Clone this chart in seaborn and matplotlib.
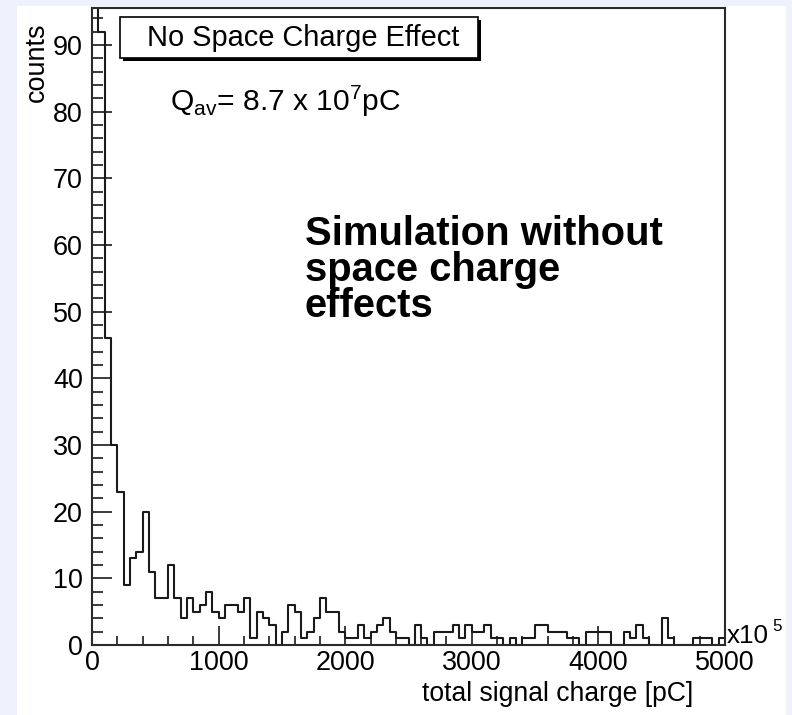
import matplotlib
matplotlib.use("Agg")
import numpy as np
import pandas as pd
import seaborn as sns
import matplotlib.pyplot as plt
from matplotlib.patches import Rectangle
from matplotlib.ticker import MultipleLocator, FixedLocator
from matplotlib import font_manager

# histogram contents: 100 bins of 50 (x10^5 pC) from 0 to 5000
bin_width = 50
x_range = (0, 5000)
counts = [130, 92, 46, 30, 23, 9, 13, 14, 20, 11,
          7, 7, 12, 7, 4, 7, 5, 6, 8, 5,
          4, 6, 6, 5, 7, 1, 5, 4, 3, 0,
          2, 6, 5, 1, 2, 4, 7, 5, 5, 2,
          1, 1, 3, 1, 2, 3, 4, 2, 1, 1,
          0, 3, 1, 0, 2, 2, 2, 3, 1, 3,
          2, 2, 3, 1, 1, 0, 1, 0, 1, 1,
          3, 3, 2, 2, 2, 1, 1, 0, 2, 2,
          2, 2, 0, 0, 2, 1, 3, 1, 0, 0,
          4, 1, 0, 0, 0, 1, 1, 1, 0, 1]
x_ticks = [0, 1000, 2000, 3000, 4000, 5000]
y_ticks = [0, 10, 20, 30, 40, 50, 60, 70, 80, 90]
title_text = "No Space Charge Effect"
note_lines = ["Simulation without", "space charge", "effects"]

W, H = 792, 715


def fx(px):
    return px / W


def fy(py):
    return 1 - py / H


def pt(px):
    return px * 72 / 100


sns.set_theme(style="ticks")
plt.rcParams["font.family"] = ["Liberation Sans", "DejaVu Sans"]
plt.rcParams["mathtext.fontset"] = "custom"
plt.rcParams["mathtext.rm"] = "Liberation Sans"
plt.rcParams["mathtext.it"] = "Liberation Sans:italic"

# narrow face for the axis numbers when available
try:
    font_manager.findfont("Liberation Sans Narrow", fallback_to_default=False)
    num_family = ["Liberation Sans Narrow", "Liberation Sans"]
    num_size = pt(30)
except Exception:
    num_family = ["Liberation Sans", "DejaVu Sans"]
    num_size = pt(27)

centers = np.arange(x_range[0], x_range[1], bin_width) + bin_width / 2
df = pd.DataFrame({"charge": centers, "counts": counts})

fig = plt.figure(figsize=(W / 100, H / 100), dpi=100, facecolor="#edf2fc")
fig.patches.append(Rectangle((fx(17), 0), fx(786) - fx(17), fy(6), transform=fig.transFigure,
                             facecolor="white", edgecolor="none", zorder=-5))

ax = fig.add_axes([fx(92), fy(645), fx(725) - fx(92), fy(8) - fy(645)])
ax.set_facecolor("white")

sns.histplot(data=df, x="charge", weights="counts", binwidth=bin_width, binrange=x_range,
             element="step", fill=False, color="#1a1a1a", linewidth=1.5, ax=ax)

ax.set_xlim(*x_range)
ax.set_ylim(0, 95.55)
ax.set_xlabel("")
ax.set_ylabel("")
ax.xaxis.set_major_locator(FixedLocator(x_ticks))
ax.xaxis.set_minor_locator(MultipleLocator(200))
ax.yaxis.set_major_locator(FixedLocator(y_ticks))
ax.yaxis.set_minor_locator(MultipleLocator(2))
ax.set_xticklabels([str(v) for v in x_ticks])
ax.set_yticklabels([str(v) for v in y_ticks])
ax.tick_params(which="both", direction="in", top=False, right=False,
               color="#1a1a1a", width=1.2)
ax.tick_params(axis="y", which="major", length=pt(20), pad=pt(9))
ax.tick_params(axis="y", which="minor", length=pt(11))
ax.tick_params(axis="x", which="major", length=pt(19), pad=pt(5))
ax.tick_params(axis="x", which="minor", length=pt(9))
for lab in ax.get_xticklabels() + ax.get_yticklabels():
    lab.set_family(num_family)
    lab.set_fontsize(num_size)
    lab.set_color("black")
for sp in ax.spines.values():
    sp.set_visible(True)
    sp.set_color("#2a2a2a")
    sp.set_linewidth(1.5)

# axis titles placed at the axis ends
fig.text(fx(37), fy(22), "counts", rotation=90, ha="center", va="top",
         fontsize=pt(27), color="black")
fig.text(fx(693), fy(701), "total signal charge [pC]", ha="right", va="baseline",
         fontsize=pt(26.5), color="black")
fig.text(fx(727), fy(643), "x10", ha="left", va="baseline", fontsize=pt(26), color="black")
fig.text(fx(772), fy(631), "5", ha="left", va="baseline", fontsize=pt(17), color="black")

# title box with drop shadow
fig.patches.append(Rectangle((fx(123), fy(61)), fx(481) - fx(123), fy(20) - fy(61),
                             transform=fig.transFigure, facecolor="black",
                             edgecolor="none", zorder=3))
fig.patches.append(Rectangle((fx(120), fy(58)), fx(478) - fx(120), fy(17) - fy(58),
                             transform=fig.transFigure, facecolor="white",
                             edgecolor="black", linewidth=1.2, zorder=4))
fig.text(fx(303), fy(38), title_text, ha="center", va="center", fontsize=pt(29),
         color="black", zorder=5)

fig.text(fx(170), fy(111), r"Q$_{\mathrm{av}}$= 8.7 x 10$^{7}$pC", ha="left",
         va="baseline", fontsize=pt(30), color="black")

for i, line in enumerate(note_lines):
    fig.text(fx(305), fy(245 + 36 * i), line, ha="left", va="baseline",
             fontsize=pt(40), fontweight="bold", color="black")

fig.savefig("out.png", dpi=100, facecolor=fig.get_facecolor())
